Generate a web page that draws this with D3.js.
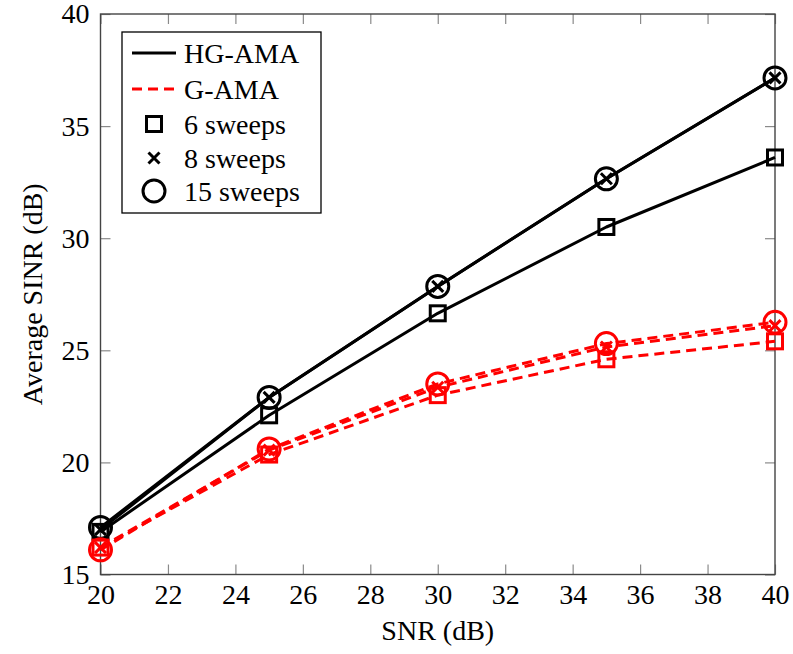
<!DOCTYPE html>
<html>
<head>
<meta charset="utf-8">
<script src="https://cdn.jsdelivr.net/npm/d3@7"></script>
<style>
  html, body { margin: 0; padding: 0; background: #fff; }
  svg { display: block; }
</style>
</head>
<body>
<svg id="chart" width="793" height="654"></svg>
<script>
// SNR sweep points (dB)
const snr = [20, 25, 30, 35, 40];

// Average SINR (dB) per algorithm and number of sweeps
const hg6  = [16.9, 22.1, 26.65, 30.5, 33.6];
const hg8  = [17.0, 22.9, 27.85, 32.65, 37.15];
const hg15 = [17.1, 22.9, 27.85, 32.65, 37.15];
const g6   = [16.2, 20.35, 23.0, 24.6, 25.4];
const g8   = [16.2, 20.55, 23.35, 25.15, 26.1];
const g15  = [16.1, 20.6, 23.5, 25.3, 26.25];

const xTicks = [20, 22, 24, 26, 28, 30, 32, 34, 36, 38, 40];
const yTicks = [15, 20, 25, 30, 35, 40];

const legendLines = [
  { label: "HG-AMA", color: "#000", dash: null },
  { label: "G-AMA",  color: "#f00", dash: "10,6" }
];
const legendMarks = [
  { label: "6 sweeps",  marker: "square" },
  { label: "8 sweeps",  marker: "cross" },
  { label: "15 sweeps", marker: "circle" }
];

const series = [
  { values: hg6,  color: "#000", dash: null,   marker: "square" },
  { values: hg8,  color: "#000", dash: null,   marker: "cross" },
  { values: hg15, color: "#000", dash: null,   marker: "circle" },
  { values: g6,   color: "#f00", dash: "10,6", marker: "square" },
  { values: g8,   color: "#f00", dash: "10,6", marker: "cross" },
  { values: g15,  color: "#f00", dash: "10,6", marker: "circle" }
];

const FONT = '"Liberation Serif", "Times New Roman", Tinos, "DejaVu Serif", "Noto Serif", Times, serif';

const svg = d3.select("#chart");
const pLeft = 100.5, pTop = 14, pRight = 775, pBottom = 574.5;

const x = d3.scaleLinear().domain([20, 40]).range([pLeft, pRight]);
const y = d3.scaleLinear().domain([15, 40]).range([pBottom, pTop]);

const fontSize = 28;
const tickColor = "#8a8a8a";

// Axes with inward ticks on all four sides
function styleAxis(g) {
  g.attr("font-family", FONT).attr("font-size", fontSize);
  g.select(".domain").remove();
  g.selectAll(".tick line").attr("stroke", tickColor).attr("stroke-width", 1.2);
  g.selectAll(".tick text").attr("font-family", FONT).attr("font-size", fontSize).attr("fill", "#000");
}

svg.append("g")
  .attr("transform", `translate(0,${pBottom})`)
  .call(d3.axisBottom(x).tickValues(xTicks).tickFormat(d3.format("d"))
    .tickSizeInner(-10).tickSizeOuter(0).tickPadding(10))
  .call(styleAxis);

svg.append("g")
  .attr("transform", `translate(0,${pTop})`)
  .call(d3.axisTop(x).tickValues(xTicks).tickFormat("")
    .tickSizeInner(-10).tickSizeOuter(0))
  .call(styleAxis);

svg.append("g")
  .attr("transform", `translate(${pLeft},0)`)
  .call(d3.axisLeft(y).tickValues(yTicks).tickFormat(d3.format("d"))
    .tickSizeInner(-10).tickSizeOuter(0).tickPadding(11))
  .call(styleAxis);

svg.append("g")
  .attr("transform", `translate(${pRight},0)`)
  .call(d3.axisRight(y).tickValues(yTicks).tickFormat("")
    .tickSizeInner(-10).tickSizeOuter(0))
  .call(styleAxis);

// Plot frame
svg.append("rect")
  .attr("x", pLeft).attr("y", pTop)
  .attr("width", pRight - pLeft).attr("height", pBottom - pTop)
  .attr("fill", "none").attr("stroke", "#444").attr("stroke-width", 1.4);

// Axis titles
svg.append("text")
  .attr("x", (pLeft + pRight) / 2).attr("y", 640)
  .attr("text-anchor", "middle")
  .attr("font-family", FONT).attr("font-size", fontSize)
  .text("SNR (dB)");

svg.append("text")
  .attr("transform", `translate(42,${(pTop + pBottom) / 2}) rotate(-90)`)
  .attr("text-anchor", "middle")
  .attr("font-family", FONT).attr("font-size", fontSize)
  .text("Average SINR (dB)");

// Marker drawing
function drawMarker(g, type, cx, cy, color) {
  if (type === "square") {
    const s = 15;
    g.append("rect")
      .attr("x", cx - s / 2).attr("y", cy - s / 2)
      .attr("width", s).attr("height", s)
      .attr("fill", "none").attr("stroke", color).attr("stroke-width", 3);
  } else if (type === "cross") {
    const h = 5.5;
    g.append("path")
      .attr("d", `M${cx - h},${cy - h}L${cx + h},${cy + h}M${cx - h},${cy + h}L${cx + h},${cy - h}`)
      .attr("fill", "none").attr("stroke", color).attr("stroke-width", 3);
  } else {
    g.append("circle")
      .attr("cx", cx).attr("cy", cy).attr("r", 11)
      .attr("fill", "none").attr("stroke", color).attr("stroke-width", 3);
  }
}

const line = d3.line().x((d, i) => x(snr[i])).y(d => y(d));

const plot = svg.append("g");
series.forEach(s => {
  plot.append("path")
    .datum(s.values)
    .attr("d", line)
    .attr("fill", "none")
    .attr("stroke", s.color)
    .attr("stroke-width", 3)
    .attr("stroke-dasharray", s.dash)
    .attr("stroke-linejoin", "round");
  const mg = plot.append("g");
  s.values.forEach((v, i) => drawMarker(mg, s.marker, x(snr[i]), y(v), s.color));
});

// Legend
const lg = svg.append("g");
lg.append("rect")
  .attr("x", 122).attr("y", 32).attr("width", 199).attr("height", 181)
  .attr("fill", "#fff").attr("stroke", "#000").attr("stroke-width", 1.3);

const rowY = [53, 89, 124, 158, 191];
legendLines.forEach((d, i) => {
  lg.append("line")
    .attr("x1", 132).attr("x2", 176)
    .attr("y1", rowY[i]).attr("y2", rowY[i])
    .attr("stroke", d.color).attr("stroke-width", 3)
    .attr("stroke-dasharray", d.dash);
  lg.append("text")
    .attr("x", 184).attr("y", rowY[i]).attr("dy", "0.35em")
    .attr("font-family", FONT).attr("font-size", fontSize)
    .text(d.label);
});
legendMarks.forEach((d, i) => {
  const yy = rowY[i + 2];
  drawMarker(lg, d.marker, 154, yy, "#000");
  lg.append("text")
    .attr("x", 184).attr("y", yy).attr("dy", "0.35em")
    .attr("font-family", FONT).attr("font-size", fontSize)
    .text(d.label);
});
</script>
</body>
</html>
